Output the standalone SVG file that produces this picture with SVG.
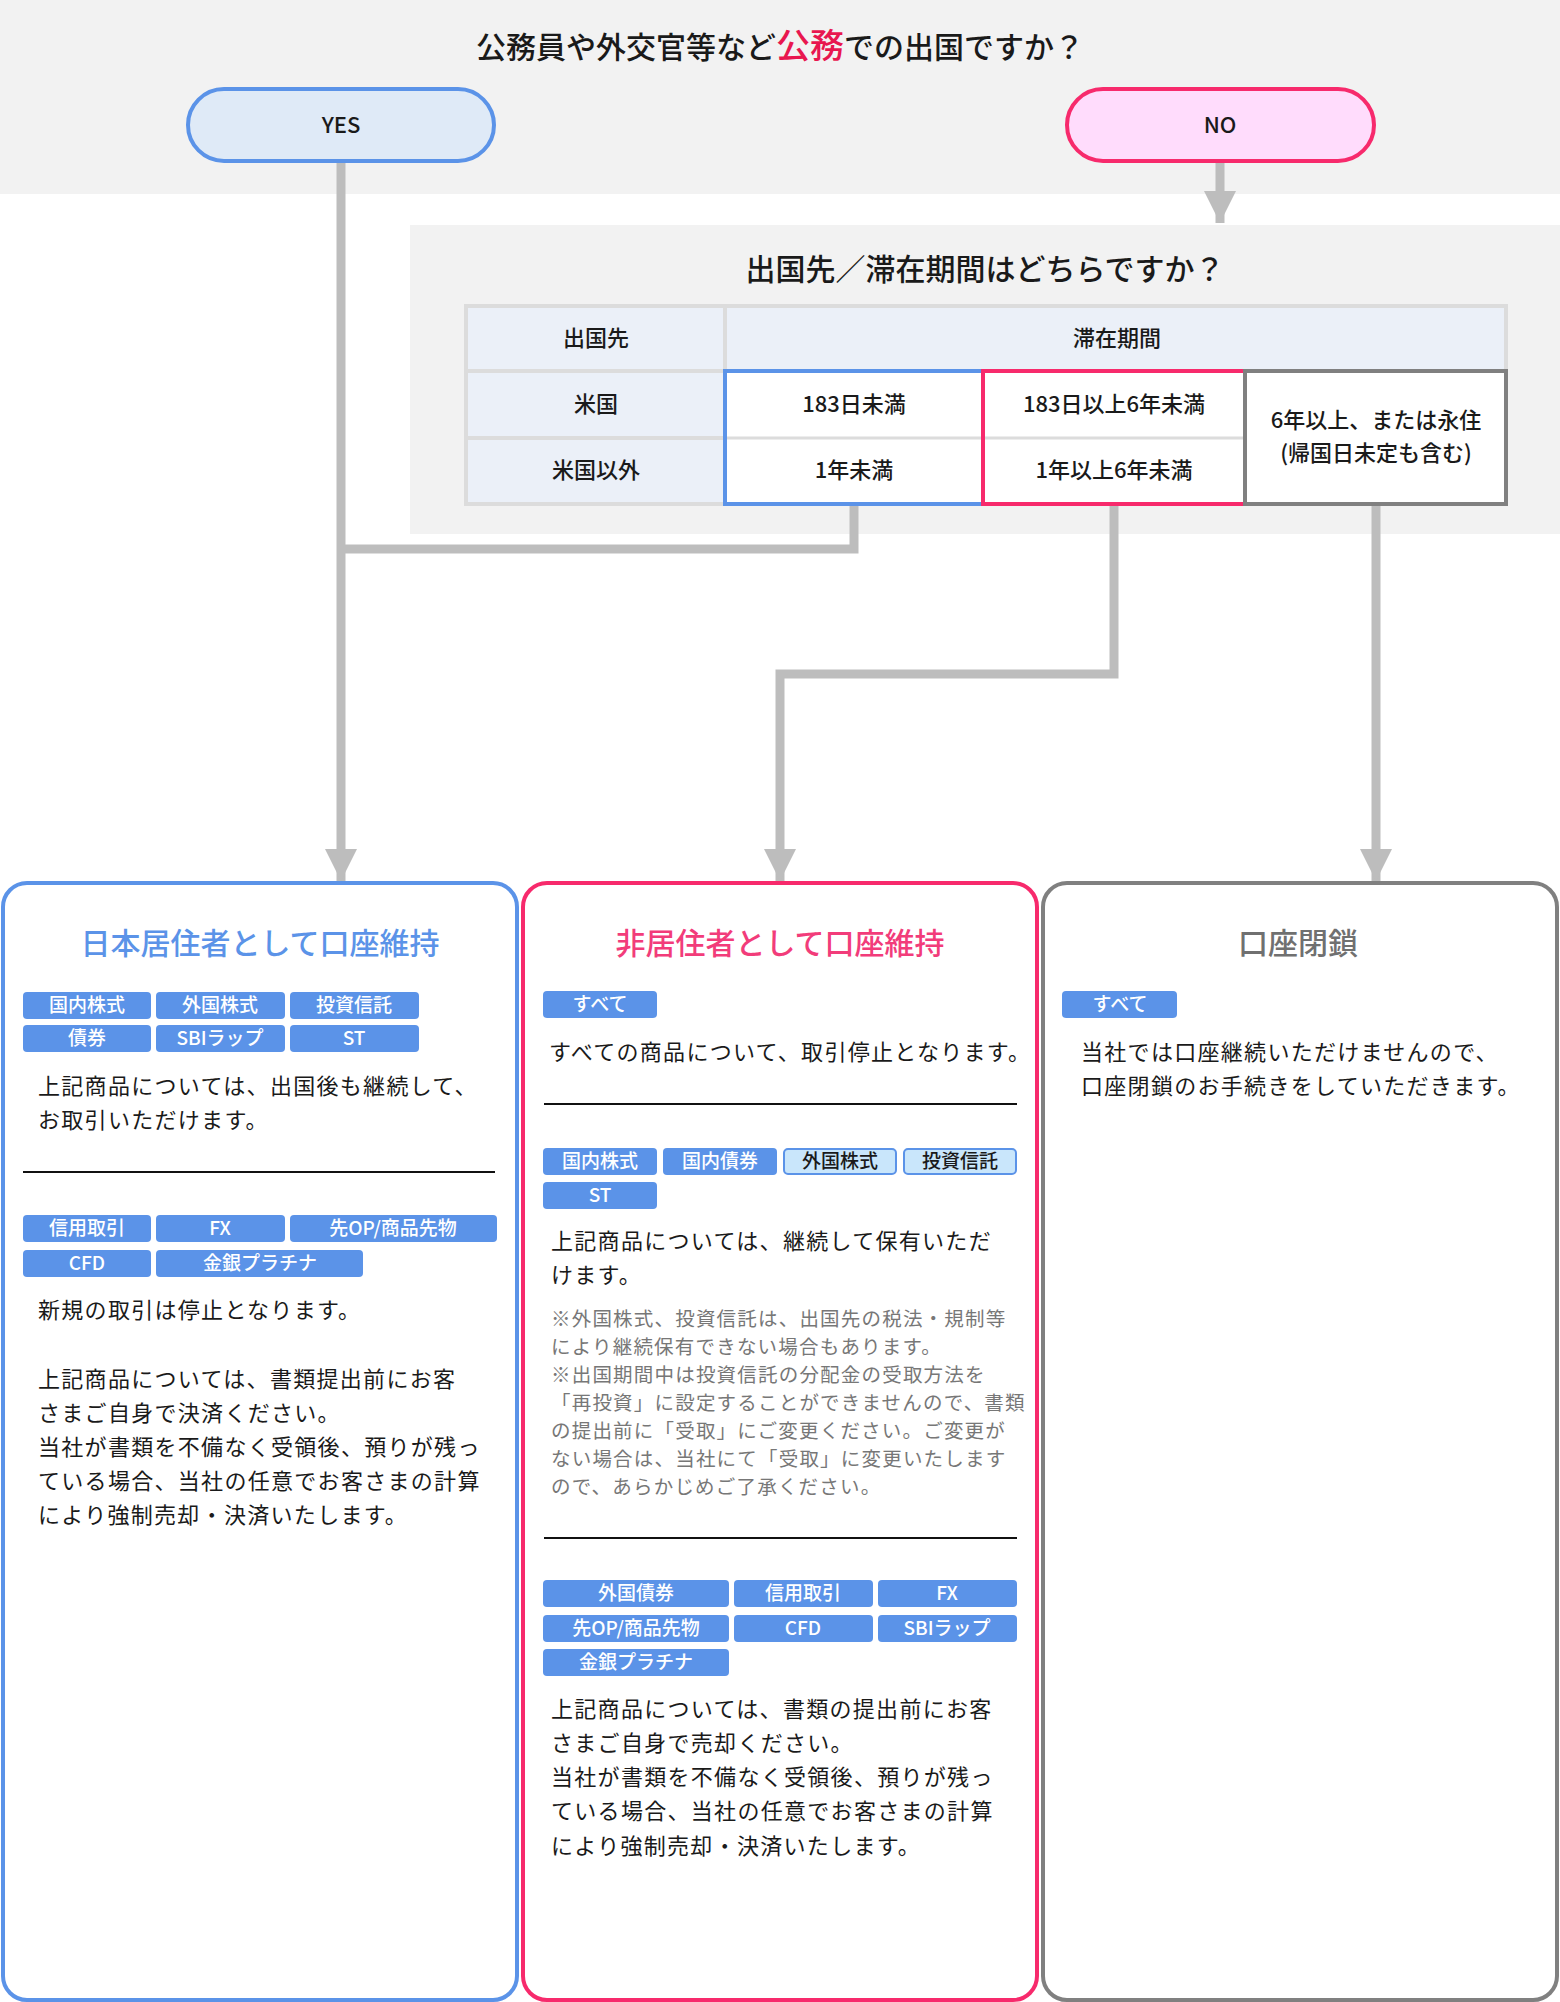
<svg xmlns="http://www.w3.org/2000/svg" width="1560" height="2002" viewBox="0 0 1560 2002">
<defs>
<style>
text{font-family:"Noto Sans CJK JP","Noto Sans",sans-serif;fill:#1a1a1a}
.t{font-size:30px;font-weight:500;text-anchor:middle}
.c{font-size:22px;font-weight:500;text-anchor:middle}
.b{font-size:22px;letter-spacing:1.3px}
.n{font-size:19.5px;fill:#777;letter-spacing:1.2px}
.tag{fill:#5b93e8;rx:4}
.tg{font-size:19px;font-weight:500;fill:#fff;text-anchor:middle}
.tl{fill:#c9e6fb;stroke:#5b93e8;stroke-width:2;rx:4}
.tgd{font-size:19px;font-weight:500;fill:#1a1a1a;text-anchor:middle}
.con{fill:none;stroke:#bdbdbd;stroke-width:9}
</style>
<marker id="ah" viewBox="0 0 10 10" refX="10" refY="5" markerWidth="3.6" markerHeight="3.6" markerUnits="strokeWidth" orient="auto"><path d="M0,0L10,5L0,10z" fill="#bdbdbd"/></marker>
</defs>
<rect x="0" y="0" width="1560" height="194" fill="#f2f2f2"/>
<rect x="410" y="225" width="1150" height="309" fill="#f2f2f2"/>
<text class="t" x="780" y="58">公務員や外交官等など<tspan fill="#e8174f" font-size="34">公務</tspan>での出国ですか？</text>
<g id="connectors">
<path class="con" d="M341,161V881" marker-end="url(#ah)"/>
<path class="con" d="M1220,161V223" marker-end="url(#ah)"/>
<path class="con" d="M854,504V549H341"/>
<path class="con" d="M1114,504V674H780V881" marker-end="url(#ah)"/>
<path class="con" d="M1376,504V881" marker-end="url(#ah)"/>
</g>
<g id="yes"><rect x="188" y="89" width="306" height="72" rx="36" fill="#dfeaf7" stroke="#5b93e8" stroke-width="4"/><text class="c" x="341" y="133">YES</text></g>
<g id="no"><rect x="1067" y="89" width="307" height="72" rx="36" fill="#ffdcfc" stroke="#f72a6c" stroke-width="4"/><text class="c" x="1220" y="133">NO</text></g>
<g id="q2">
<text class="t" x="985" y="280">出国先／滞在期間はどちらですか？</text>
<rect x="466" y="306" width="1040" height="198" fill="#ebf0f8" stroke="#dcdcdc" stroke-width="4"/>
<path d="M725,306V504M466,371H725M466,438H725" stroke="#dcdcdc" stroke-width="4"/>
<rect x="725" y="371" width="258" height="133" fill="#fff" stroke="#5b93e8" stroke-width="4"/>
<rect x="983" y="371" width="262" height="133" fill="#fff" stroke="#f72a6c" stroke-width="4"/>
<rect x="1245" y="371" width="261" height="133" fill="#fff" stroke="#808080" stroke-width="4"/>
<path d="M727,438H981M985,438H1243" stroke="#dcdcdc" stroke-width="3"/>
<text class="c" x="596" y="346">出国先</text>
<text class="c" x="1117" y="346">滞在期間</text>
<text class="c" x="596" y="412">米国</text>
<text class="c" x="596" y="478">米国以外</text>
<text class="c" x="854" y="412">183日未満</text>
<text class="c" x="854" y="478">1年未満</text>
<text class="c" x="1114" y="412">183日以上6年未満</text>
<text class="c" x="1114" y="478">1年以上6年未満</text>
<text class="c" x="1376" y="428">6年以上、または永住</text>
<text class="c" x="1376" y="461">(帰国日未定も含む)</text>
</g>
<g id="card1">
<rect x="3" y="883" width="514" height="1117" rx="24" fill="#fff" stroke="#5b93e8" stroke-width="4"/>
<text class="t" x="260" y="954" fill="#5b93e8" style="fill:#5b93e8">日本居住者として口座維持</text>
<rect class="tag" x="23" y="992" width="128" height="27"/><text class="tg" x="87" y="1012">国内株式</text>
<rect class="tag" x="156" y="992" width="129" height="27"/><text class="tg" x="220" y="1012">外国株式</text>
<rect class="tag" x="290" y="992" width="129" height="27"/><text class="tg" x="354" y="1012">投資信託</text>
<rect class="tag" x="23" y="1025" width="128" height="27"/><text class="tg" x="87" y="1045">債券</text>
<rect class="tag" x="156" y="1025" width="129" height="27"/><text class="tg" x="220" y="1045">SBIラップ</text>
<rect class="tag" x="290" y="1025" width="129" height="27"/><text class="tg" x="354" y="1045">ST</text>
<text class="b" x="38" y="1094">上記商品については、出国後も継続して、</text>
<text class="b" x="38" y="1128">お取引いただけます。</text>
<path d="M23,1172H495" stroke="#111" stroke-width="2"/>
<rect class="tag" x="23" y="1215" width="128" height="27"/><text class="tg" x="87" y="1235">信用取引</text>
<rect class="tag" x="156" y="1215" width="129" height="27"/><text class="tg" x="220" y="1235">FX</text>
<rect class="tag" x="290" y="1215" width="207" height="27"/><text class="tg" x="393" y="1235">先OP/商品先物</text>
<rect class="tag" x="23" y="1250" width="128" height="27"/><text class="tg" x="87" y="1270">CFD</text>
<rect class="tag" x="156" y="1250" width="207" height="27"/><text class="tg" x="260" y="1270">金銀プラチナ</text>
<text class="b" x="38" y="1318">新規の取引は停止となります。</text>
<text class="b" x="38" y="1387">上記商品については、書類提出前にお客</text>
<text class="b" x="38" y="1421">さまご自身で決済ください。</text>
<text class="b" x="38" y="1455">当社が書類を不備なく受領後、預りが残っ</text>
<text class="b" x="38" y="1489">ている場合、当社の任意でお客さまの計算</text>
<text class="b" x="38" y="1523">により強制売却・決済いたします。</text>
</g>
<g id="card2">
<rect x="523" y="883" width="514" height="1117" rx="24" fill="#fff" stroke="#f72a6c" stroke-width="4"/>
<text class="t" x="780" y="954" style="fill:#f23c7a">非居住者として口座維持</text>
<rect class="tag" x="543" y="991" width="114" height="27"/><text class="tg" x="600" y="1011">すべて</text>
<text class="b" x="549" y="1060">すべての商品について、取引停止となります。</text>
<path d="M544,1104H1017" stroke="#111" stroke-width="2"/>
<rect class="tag" x="543" y="1148" width="114" height="27"/><text class="tg" x="600" y="1168">国内株式</text>
<rect class="tag" x="663" y="1148" width="114" height="27"/><text class="tg" x="720" y="1168">国内債券</text>
<rect class="tl" x="784" y="1149" width="112" height="25"/><text class="tgd" x="840" y="1168">外国株式</text>
<rect class="tl" x="904" y="1149" width="112" height="25"/><text class="tgd" x="960" y="1168">投資信託</text>
<rect class="tag" x="543" y="1182" width="114" height="27"/><text class="tg" x="600" y="1202">ST</text>
<text class="b" x="551" y="1249">上記商品については、継続して保有いただ</text>
<text class="b" x="551" y="1283">けます。</text>
<text class="n" x="551" y="1326">※外国株式、投資信託は、出国先の税法・規制等</text>
<text class="n" x="551" y="1354">により継続保有できない場合もあります。</text>
<text class="n" x="551" y="1382">※出国期間中は投資信託の分配金の受取方法を</text>
<text class="n" x="551" y="1410">「再投資」に設定することができませんので、書類</text>
<text class="n" x="551" y="1438">の提出前に「受取」にご変更ください。ご変更が</text>
<text class="n" x="551" y="1466">ない場合は、当社にて「受取」に変更いたします</text>
<text class="n" x="551" y="1494">ので、あらかじめご了承ください。</text>
<path d="M544,1538H1017" stroke="#111" stroke-width="2"/>
<rect class="tag" x="543" y="1580" width="186" height="27"/><text class="tg" x="636" y="1600">外国債券</text>
<rect class="tag" x="734" y="1580" width="139" height="27"/><text class="tg" x="803" y="1600">信用取引</text>
<rect class="tag" x="878" y="1580" width="139" height="27"/><text class="tg" x="947" y="1600">FX</text>
<rect class="tag" x="543" y="1615" width="186" height="27"/><text class="tg" x="636" y="1635">先OP/商品先物</text>
<rect class="tag" x="734" y="1615" width="139" height="27"/><text class="tg" x="803" y="1635">CFD</text>
<rect class="tag" x="878" y="1615" width="139" height="27"/><text class="tg" x="947" y="1635">SBIラップ</text>
<rect class="tag" x="543" y="1649" width="186" height="27"/><text class="tg" x="636" y="1669">金銀プラチナ</text>
<text class="b" x="551" y="1717">上記商品については、書類の提出前にお客</text>
<text class="b" x="551" y="1751">さまご自身で売却ください。</text>
<text class="b" x="551" y="1785">当社が書類を不備なく受領後、預りが残っ</text>
<text class="b" x="551" y="1819">ている場合、当社の任意でお客さまの計算</text>
<text class="b" x="551" y="1854">により強制売却・決済いたします。</text>
</g>
<g id="card3">
<rect x="1043" y="883" width="514" height="1117" rx="24" fill="#fff" stroke="#808080" stroke-width="4"/>
<text class="t" x="1298" y="954" style="fill:#707070">口座閉鎖</text>
<rect class="tag" x="1062" y="991" width="115" height="27"/><text class="tg" x="1120" y="1011">すべて</text>
<text class="b" x="1081" y="1060">当社では口座継続いただけませんので、</text>
<text class="b" x="1081" y="1094">口座閉鎖のお手続きをしていただきます。</text>
</g>
</svg>
